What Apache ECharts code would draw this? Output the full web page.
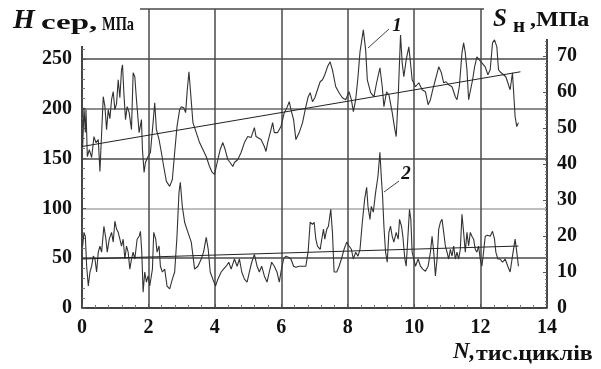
<!DOCTYPE html>
<html>
<head>
<meta charset="utf-8">
<script src="https://cdn.jsdelivr.net/npm/echarts@6/dist/echarts.min.js"></script>
<style>
  html, body { margin: 0; padding: 0; background: #fff; }
  #chart { width: 601px; height: 369px; }
</style>
</head>
<body>
<div id="chart"></div>
<script>
// крива 1: H сер, МПа (ліва вісь)
var curve1 = [
  [0.02,162],[0.06,201],[0.10,176],[0.12,199],[0.16,152],[0.22,159],[0.29,151],[0.36,172],[0.42,166],[0.49,169],
  [0.54,137],[0.57,160],[0.64,212],[0.69,202],[0.74,179],[0.79,199],[0.84,190],[0.89,209],[0.94,217],[0.99,199],
  [1.04,205],[1.09,229],[1.14,211],[1.19,239],[1.22,244],[1.26,216],[1.31,189],[1.36,202],[1.42,196],[1.49,179],
  [1.54,236],[1.59,232],[1.64,209],[1.72,176],[1.79,189],[1.82,159],[1.87,136],[1.91,146],[1.99,152],[2.06,156],
  [2.14,186],[2.19,206],[2.24,179],[2.32,169],[2.39,156],[2.46,142],[2.54,127],[2.64,122],[2.72,129],[2.79,156],
  [2.86,182],[2.94,199],[2.99,202],[3.06,201],[3.12,196],[3.17,219],[3.22,237],[3.27,216],[3.34,186],[3.44,176],
  [3.54,166],[3.64,159],[3.74,152],[3.84,142],[3.92,136],[3.99,134],[4.04,136],[4.09,149],[4.16,159],[4.24,166],
  [4.31,159],[4.39,149],[4.46,146],[4.54,142],
  [4.59,146],[4.69,149],[4.79,156],[4.89,166],[4.99,172],[5.09,171],[5.19,181],[5.24,172],[5.29,174],[5.39,169],
  [5.49,162],[5.54,157],[5.59,166],[5.69,179],[5.74,186],[5.79,176],[5.89,176],[5.99,182],[6.09,196],[6.17,201],
  [6.24,207],[6.29,199],[6.37,189],[6.44,169],[6.54,176],[6.64,186],[6.74,202],[6.81,212],[6.87,216],[6.94,207],
  [7.01,211],[7.09,219],[7.17,227],[7.24,229],[7.31,234],[7.39,242],[7.47,247],[7.54,239],[7.64,222],[7.74,216],
  [7.84,211],[7.94,209],[8.04,217],[8.11,209],[8.17,197],[8.24,209],[8.31,232],[8.37,257],[8.47,279],[8.54,259],
  [8.59,229],[8.69,216],[8.79,212],[8.87,226],[8.97,241],[9.04,222],[9.09,202],[9.17,217],
  [9.24,214],[9.34,196],[9.42,179],[9.46,172],[9.52,212],[9.59,274],[9.64,246],[9.69,232],[9.76,249],[9.84,262],
  [9.89,246],[9.94,229],[10.04,222],[10.14,226],[10.24,219],[10.34,217],[10.42,204],[10.49,209],[10.56,219],[10.64,229],
  [10.74,242],[10.82,236],[10.89,226],[10.96,227],[11.04,224],[11.14,222],[11.24,212],[11.29,209],[11.36,222],[11.44,256],
  [11.49,266],[11.54,256],[11.59,239],[11.64,209],[11.69,211],[11.76,229],[11.82,242],[11.89,252],[11.96,249],[12.04,246],
  [12.14,242],[12.22,234],[12.29,239],[12.36,266],[12.42,269],[12.49,262],[12.54,239],[12.62,236],[12.69,234],[12.76,232],
  [12.82,226],[12.89,219],[12.96,236],[13.02,237],[13.04,192],[13.09,182],[13.14,186]
];

// крива 2: S н, МПа (права вісь)
var curve2 = [
  [0.02,17.2],[0.06,21.0],[0.10,19.9],[0.14,11.6],[0.19,6.1],[0.24,10.0],[0.29,11.6],[0.34,14.4],[0.39,13.6],[0.44,10.0],
  [0.49,15.5],[0.54,17.2],[0.59,15.5],[0.66,22.7],[0.72,19.1],[0.76,15.5],[0.82,19.1],[0.89,21.0],[0.94,18.3],[0.99,24.1],
  [1.04,21.9],[1.09,21.0],[1.14,19.1],[1.19,17.2],[1.24,19.1],[1.29,13.6],[1.34,17.2],[1.39,15.5],[1.44,10.8],[1.49,13.6],
  [1.54,15.5],[1.59,13.6],[1.66,19.1],[1.72,19.9],[1.76,21.3],[1.80,15.5],[1.84,4.4],[1.89,10.0],[1.94,7.2],[1.99,8.9],
  [2.04,6.1],[2.12,10.8],[2.16,21.0],[2.22,19.1],[2.26,15.5],[2.32,17.2],[2.36,11.6],[2.42,10.0],[2.49,10.8],[2.56,6.1],
  [2.64,5.3],[2.72,8.0],[2.79,10.0],[2.86,19.9],[2.92,32.1],[2.96,34.9],[3.02,28.2],[3.09,23.8],[3.19,21.0],[3.29,18.3],
  [3.39,10.8],[3.49,11.6],[3.59,13.6],[3.66,15.5],[3.74,19.6],[3.80,16.3],[3.86,10.0],[3.94,8.0],[4.02,6.1],[4.09,8.0],
  [4.19,10.0],[4.26,10.8],[4.34,11.6],[4.42,12.7],[4.49,10.8],
  [4.59,13.6],[4.67,11.6],[4.74,13.6],[4.81,10.0],[4.89,8.0],[4.97,7.2],[5.04,10.0],[5.11,12.7],[5.19,14.9],[5.27,11.6],
  [5.34,10.0],[5.41,11.6],[5.49,8.9],[5.57,7.2],[5.64,10.0],[5.71,12.7],[5.79,11.6],[5.87,10.0],[5.94,7.2],[5.99,10.0],
  [6.07,13.6],[6.14,14.4],[6.21,14.1],[6.29,13.6],[6.37,11.6],[6.44,11.3],[6.54,11.6],[6.64,11.6],[6.74,11.6],[6.81,15.8],
  [6.87,23.8],[6.94,23.2],[6.99,23.8],[7.04,19.1],[7.09,17.2],[7.17,16.3],[7.21,16.3],[7.27,21.9],[7.31,19.1],[7.37,21.9],
  [7.42,22.7],[7.49,27.4],[7.54,21.0],[7.59,10.0],[7.67,10.0],[7.74,11.6],[7.81,13.6],[7.89,16.3],[7.97,18.3],[8.04,17.2],
  [8.11,16.3],[8.17,13.6],[8.24,15.5],[8.31,14.4],[8.37,16.3],[8.44,23.8],[8.51,30.2],[8.57,33.5],[8.61,28.2],[8.67,24.6],
  [8.71,28.2],[8.77,26.6],[8.84,32.1],[8.91,36.5],[8.97,43.2],[9.01,36.5],[9.05,31.0],[9.09,22.7],[9.14,15.5],[9.19,12.7],
  [9.24,21.0],[9.29,22.7],[9.34,19.9],[9.39,18.3],[9.46,21.0],[9.52,19.1],[9.56,24.6],[9.62,22.7],[9.66,19.9],[9.72,13.6],
  [9.76,11.6],[9.82,21.0],[9.86,27.4],[9.90,24.6],[9.94,15.5],[9.99,13.6],[10.04,11.6],[10.12,13.6],[10.19,11.6],[10.26,10.8],
  [10.34,10.2],[10.42,11.6],[10.49,15.5],[10.54,19.9],[10.59,15.5],[10.64,8.9],[10.69,13.6],[10.74,21.9],[10.79,23.8],[10.84,24.6],
  [10.89,21.0],[10.94,17.2],[10.99,15.5],[11.04,13.6],[11.09,16.3],[11.14,14.4],[11.19,17.2],[11.24,13.6],[11.29,15.5],[11.34,13.6],
  [11.39,16.3],[11.44,26.0],[11.49,21.0],[11.54,15.5],[11.59,21.0],[11.64,17.2],[11.69,21.0],[11.74,19.9],[11.79,19.1],[11.84,16.3],
  [11.89,15.5],[11.94,17.2],[11.99,13.6],[12.04,11.6],[12.09,15.5],[12.14,19.9],[12.21,20.2],[12.29,19.9],[12.36,21.3],[12.42,19.1],
  [12.46,15.5],[12.52,13.6],[12.59,13.6],[12.66,12.7],[12.74,13.6],[12.82,11.6],[12.89,10.0],[12.96,14.4],[13.04,19.1],[13.09,15.5],
  [13.14,11.6]
];

// лінії тренду
var trend1 = [[0, 162], [13.2, 237]];
var trend2 = [[0, 13.6], [13.14, 17.2]];

var xTicks = [0, 2, 4, 6, 8, 10, 12, 14];
var leftTicks = [0, 50, 100, 150, 200, 250];
var rightTicks = [0, 10, 20, 30, 40, 50, 60, 70];

var serif = '"Liberation Serif", "Times New Roman", serif';
var ink = '#111';
var grid = '#4a4a4a';

var myChart = echarts.init(document.getElementById('chart'));

var labelStyle = {
  fontFamily: serif,
  fontWeight: 'bold',
  fontSize: 20,
  color: ink
};

// підпис з можливістю розтягнути по горизонталі
var label = function (x, y, text, font, sx, align) {
  return {
    type: 'text', z: 101, x: x, y: y, scaleX: sx || 1,
    style: { x: 0, y: 0, text: text, font: font + ' ' + serif, fill: ink, align: align || 'left', verticalAlign: 'middle' }
  };
};

var option = {
  animation: false,
  backgroundColor: '#fff',
  grid: { left: 82, right: 54, top: 9, bottom: 61 },
  xAxis: {
    type: 'value',
    min: xTicks[0],
    max: xTicks[xTicks.length - 1],
    interval: 2,
    axisLine: { lineStyle: { color: '#333', width: 1.5 } },
    axisTick: { inside: true, length: 4, lineStyle: { color: '#555' } },
    minorTick: { show: true, splitNumber: 5, length: 3, lineStyle: { color: '#777' } },
    splitLine: { show: true, lineStyle: { color: grid, width: 1.5 } },
    axisLabel: Object.assign({ margin: 10 }, labelStyle)
  },
  yAxis: [{
    type: 'value',
    position: 'left',
    min: 0,
    max: 300,
    interval: 50,
    axisLine: { show: true, lineStyle: { color: '#333', width: 1.5 } },
    axisTick: { inside: true, length: 4, lineStyle: { color: '#555' } },
    minorTick: { show: true, splitNumber: 5, length: 3, lineStyle: { color: '#777' } },
    splitLine: {
      show: true,
      lineStyle: { color: [grid, grid, '#a8a8a8', grid, '#666', grid, grid], width: 1.5 }
    },
    axisLabel: Object.assign({
      margin: 10,
      formatter: function (v) { return leftTicks.indexOf(v) >= 0 ? String(v) : ''; }
    }, labelStyle)
  }, {
    type: 'value',
    position: 'right',
    min: 0,
    max: 83,
    interval: 10,
    axisLine: { show: true, lineStyle: { color: '#333', width: 1.5 } },
    axisTick: { inside: true, length: 4, lineStyle: { color: '#555' } },
    minorTick: { show: true, splitNumber: 10, length: 2, lineStyle: { color: '#777' } },
    splitLine: { show: false },
    axisLabel: Object.assign({
      margin: 10,
      formatter: function (v) { return rightTicks.indexOf(v) >= 0 ? String(v) : ''; }
    }, labelStyle)
  }],
  series: [{
    type: 'line',
    yAxisIndex: 0,
    data: curve1,
    showSymbol: false,
    lineStyle: { color: '#333', width: 1.1 }
  }, {
    type: 'line',
    yAxisIndex: 1,
    data: curve2,
    showSymbol: false,
    lineStyle: { color: '#333', width: 1.1 }
  }, {
    type: 'line',
    yAxisIndex: 0,
    data: trend1,
    showSymbol: false,
    lineStyle: { color: '#222', width: 1 }
  }, {
    type: 'line',
    yAxisIndex: 1,
    data: trend2,
    showSymbol: false,
    lineStyle: { color: '#222', width: 1 }
  }],
  graphic: [
    // білі підкладки під заголовками осей
    { type: 'rect', z: 100, shape: { x: 0, y: 0, width: 140, height: 46 }, style: { fill: '#fff' } },
    { type: 'rect', z: 100, shape: { x: 484, y: 0, width: 117, height: 39 }, style: { fill: '#fff' } },
    label(13, 21, 'H', 'italic bold 28px'),
    label(41, 23, 'сер,', 'bold 22px', 1.5),
    label(102, 25, 'МПа', 'bold 19px', 0.76),
    label(493, 20, 'S', 'italic bold 25px'),
    label(513, 27, 'н', 'bold 21px'),
    label(530, 21, ',МПа', 'bold 20px', 1.2),
    label(453, 352, 'N,', 'italic bold 23px'),
    label(476, 354, 'тис.циклів', 'bold 22px', 1.09),
    // позначки кривих
    { type: 'line', z: 101, shape: { x1: 368, y1: 48, x2: 389, y2: 29 }, style: { stroke: '#444', lineWidth: 1 } },
    label(397, 26, '1', 'italic bold 19px', 1, 'center'),
    { type: 'line', z: 101, shape: { x1: 384, y1: 192, x2: 399, y2: 181 }, style: { stroke: '#444', lineWidth: 1 } },
    label(406, 174, '2', 'italic bold 19px', 1, 'center')
  ]
};

myChart.setOption(option);
</script>
</body>
</html>
